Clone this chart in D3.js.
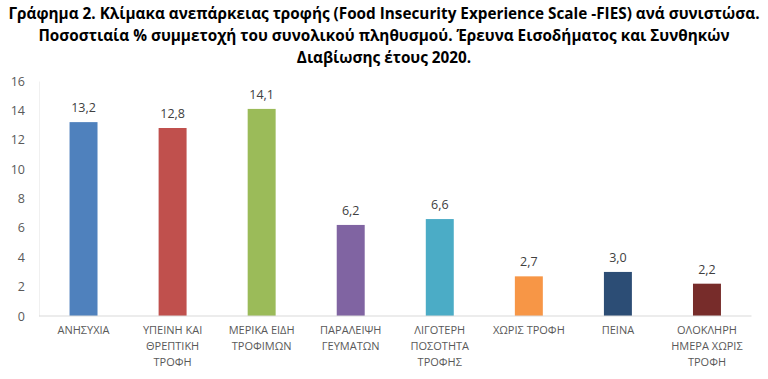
<!DOCTYPE html>
<html><head><meta charset="utf-8">
<script src="https://cdn.jsdelivr.net/npm/d3@7"></script>
<style>body{margin:0;background:#fff;} svg{display:block;}</style>
</head><body>
<svg id="c" width="768" height="379"></svg>
<script>
const titleLines = [
  "Γράφημα 2. Κλίμακα ανεπάρκειας τροφής (Food Insecurity Experience Scale -FIES) ανά συνιστώσα.",
  "Ποσοστιαία % συμμετοχή του συνολικού πληθυσμού. Έρευνα Εισοδήματος και Συνθηκών",
  "Διαβίωσης έτους 2020."
];
const categories = [
  ["ΑΝΗΣΥΧΙΑ"],
  ["ΥΠΕΙΝΗ ΚΑΙ", "ΘΡΕΠΤΙΚΗ", "ΤΡΟΦΗ"],
  ["ΜΕΡΙΚΑ ΕΙΔΗ", "ΤΡΟΦΙΜΩΝ"],
  ["ΠΑΡΑΛΕΙΨΗ", "ΓΕΥΜΑΤΩΝ"],
  ["ΛΙΓΟΤΕΡΗ", "ΠΟΣΟΤΗΤΑ", "ΤΡΟΦΗΣ"],
  ["ΧΩΡΙΣ ΤΡΟΦΗ"],
  ["ΠΕΙΝΑ"],
  ["ΟΛΟΚΛΗΡΗ", "ΗΜΕΡΑ ΧΩΡΙΣ", "ΤΡΟΦΗ"]
];
const values = [13.2, 12.8, 14.1, 6.2, 6.6, 2.7, 3.0, 2.2];
const colors = ["#4F81BD", "#C0504D", "#9BBB59", "#8064A2", "#4BACC6", "#F79646", "#2C4D75", "#772C2A"];
const yTicks = [0, 2, 4, 6, 8, 10, 12, 14, 16];

const svg = d3.select("#c");
const font = "'Open Sans', sans-serif";
const W = 768, H = 379;
const x0 = 39, x1 = 751.5, yBase = 316, yTop = 81;

const x = d3.scaleBand().domain(d3.range(values.length)).range([x0, x1]).paddingInner(0.686).paddingOuter(0.343);
const y = d3.scaleLinear().domain([0, 16]).range([yBase, yTop]);

// title
svg.append("g").selectAll("text").data(titleLines).join("text")
  .attr("x", 384).attr("y", (d, i) => 19 + i * 22)
  .attr("text-anchor", "middle").attr("font-family", font).attr("font-weight", "bold")
  .attr("font-size", 15.3).attr("fill", "#000").text(d => d);

// y axis
const ya = svg.append("g").attr("transform", `translate(${x0},0)`)
  .call(d3.axisLeft(y).tickValues(yTicks).tickSize(0).tickPadding(14).tickFormat(d3.format("d")));
ya.select(".domain").attr("stroke", "#f0f0f0");
ya.selectAll("text").attr("font-family", font).attr("font-size", 12.5).attr("fill", "#595959");

// bars
svg.append("g").selectAll("rect").data(values).join("rect")
  .attr("x", (d, i) => x(i)).attr("width", x.bandwidth())
  .attr("y", d => y(d)).attr("height", d => y(0) - y(d))
  .attr("fill", (d, i) => colors[i]);

// value labels
svg.append("g").selectAll("text").data(values).join("text")
  .attr("x", (d, i) => x(i) + x.bandwidth() / 2).attr("y", d => y(d) - 10)
  .attr("text-anchor", "middle").attr("font-family", font).attr("font-size", 12.5).attr("fill", "#404040")
  .text(d => d3.format(".1f")(d).replace(".", ","));

// x axis
const xa = svg.append("g").attr("transform", `translate(0,${y(0)})`)
  .call(d3.axisBottom(x).tickSize(0).tickFormat(""));
xa.select(".domain").attr("stroke", "#d9d9d9").attr("d", `M${x0},0H${x1}`);

const lab = svg.append("g").selectAll("text").data(categories).join("text")
  .attr("x", (d, i) => x(i) + x.bandwidth() / 2).attr("y", y(0) + 18)
  .attr("text-anchor", "middle").attr("font-family", font).attr("font-size", 11).attr("fill", "#595959");
lab.selectAll("tspan").data(d => d).join("tspan")
  .attr("x", function() { return this.parentNode.getAttribute("x"); })
  .attr("dy", (d, i) => i === 0 ? 0 : 16).text(d => d);
</script>
</body></html>
